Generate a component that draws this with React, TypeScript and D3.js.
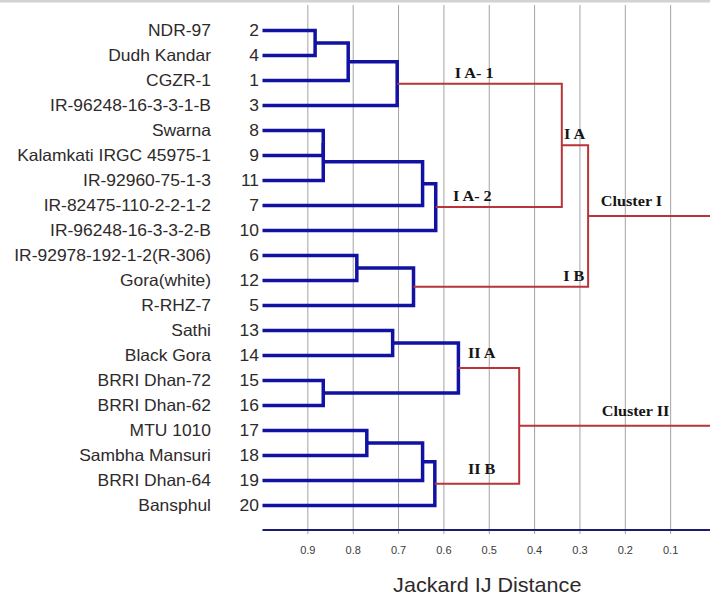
import React from 'react'
import * as d3 from 'd3'

// leaves, top to bottom
const leafNames = [
  'NDR-97', 'Dudh Kandar', 'CGZR-1', 'IR-96248-16-3-3-1-B', 'Swarna',
  'Kalamkati IRGC 45975-1', 'IR-92960-75-1-3', 'IR-82475-110-2-2-1-2',
  'IR-96248-16-3-3-2-B', 'IR-92978-192-1-2(R-306)', 'Gora(white)', 'R-RHZ-7',
  'Sathi', 'Black Gora', 'BRRI Dhan-72', 'BRRI Dhan-62', 'MTU 1010',
  'Sambha Mansuri', 'BRRI Dhan-64', 'Bansphul',
]
const leafIds = [2, 4, 1, 3, 8, 9, 11, 7, 10, 6, 12, 5, 13, 14, 15, 16, 17, 18, 19, 20]

// merges: node 20 + k joins mergeLeft[k] and mergeRight[k] at mergeHeight[k]
const mergeLeft = [0, 20, 21, 4, 23, 24, 25, 22, 9, 28, 27, 12, 14, 31, 16, 34, 35, 33, 30]
const mergeRight = [1, 2, 3, 5, 6, 7, 8, 26, 10, 11, 29, 13, 15, 32, 17, 18, 19, 36, 37]
const mergeHeight = [0.884, 0.811, 0.703, 0.866, 0.866, 0.647, 0.618, 0.34, 0.792, 0.667, 0.282,
  0.713, 0.866, 0.568, 0.77, 0.647, 0.62, 0.434, 0]

const distTicks = [0.9, 0.8, 0.7, 0.6, 0.5, 0.4, 0.3, 0.2, 0.1]

// group labels, the node whose link they sit on, and where along the distance axis they start
const groupNames = ['I A- 1', 'I A- 2', 'I A', 'I B', 'Cluster I', 'II A', 'II B', 'Cluster II']
const groupNodes = [22, 26, 27, 29, 30, 33, 36, 37]
const groupDist = [0.576, 0.58, 0.335, 0.337, 0.254, 0.547, 0.547, 0.252]

const W = 710
const H = 598
const CUT = 0.5 // links below this distance are drawn red
const BLUE = '#1212a2'
const RED = '#b9343a'

function Stretched({ x, y, anchor, size, family, weight, fill, sx, children }: any) {
  return (
    <g transform={`translate(${x},${y}) scale(${sx},1)`}>
      <text textAnchor={anchor} fontSize={size} fontFamily={family} fontWeight={weight} fill={fill}>
        {children}
      </text>
    </g>
  )
}

export default function App() {
  const x = d3.scaleLinear().domain([1, 0]).range([262.5, 716])
  const yLeaf = d3.scalePoint<number>().domain(d3.range(leafNames.length)).range([30.5, 505.5])

  // node geometry
  const n = leafNames.length
  const hgt: number[] = []
  const ys: number[] = []
  for (let i = 0; i < n; i++) {
    hgt[i] = 1
    ys[i] = yLeaf(i) as number
  }
  mergeHeight.forEach((h, k) => {
    hgt[n + k] = h
    ys[n + k] = (ys[mergeLeft[k]] + ys[mergeRight[k]]) / 2
  })

  const links = mergeHeight.map((h, k) => {
    const a = mergeLeft[k]
    const b = mergeRight[k]
    const xn = x(h)
    return {
      d: `M${x(hgt[a])},${ys[a]}H${xn}V${ys[b]}H${x(hgt[b])}`,
      red: h < CUT,
    }
  })

  const axisY = 530
  const sans = 'Liberation Sans, Arial, sans-serif'
  const serif = 'Liberation Serif, Times New Roman, serif'

  return (
    <svg width={W} height={H} style={{ position: 'absolute', left: 0, top: 0, background: '#fff' }}>
      <rect x={0} y={0} width={W} height={2.5} fill="#d2d2d2" />

      {/* grid */}
      {distTicks.map(t => (
        <line key={t} x1={x(t)} x2={x(t)} y1={5} y2={axisY + 4} stroke="#a3a3a3" strokeWidth={1} />
      ))}

      {/* axis */}
      <line x1={x(1)} x2={W} y1={axisY} y2={axisY} stroke="#1b1b72" strokeWidth={2} />
      {distTicks.map(t => (
        <text key={t} x={x(t)} y={554} textAnchor="middle" fontSize={11} fontFamily={sans} fill="#3a3a3a">
          {t.toFixed(1)}
        </text>
      ))}
      <Stretched x={x(0.5) - 2} y={592} anchor="middle" size={20} family={sans} fill="#2e2a2a" sx={1.08}>
        Jackard IJ Distance
      </Stretched>

      {/* leaf labels */}
      {leafNames.map((name, i) => (
        <g key={name}>
          <Stretched x={211} y={ys[i] + 5.8} anchor="end" size={16.3} family={sans} fill="#2e2a2a" sx={1.07}>
            {name}
          </Stretched>
          <Stretched x={259} y={ys[i] + 5.8} anchor="end" size={16.3} family={sans} fill="#2e2a2a" sx={1.07}>
            {leafIds[i]}
          </Stretched>
        </g>
      ))}

      {/* tree */}
      {links.filter(l => !l.red).map((l, i) => (
        <path key={'b' + i} d={l.d} fill="none" stroke={BLUE} strokeWidth={3.5} strokeLinejoin="miter" />
      ))}
      {links.filter(l => l.red).map((l, i) => (
        <path key={'r' + i} d={l.d} fill="none" stroke={RED} strokeWidth={2} strokeLinejoin="miter" />
      ))}

      {/* group labels */}
      {groupNames.map((g, i) => (
        <Stretched key={g} x={x(groupDist[i])} y={ys[groupNodes[i]] - (g.startsWith('Cluster') || g.startsWith('II') ? 10 : 6)}
          anchor="start" size={15} family={serif} weight="bold" fill="#151515" sx={1.08}>
          {g}
        </Stretched>
      ))}
    </svg>
  )
}
